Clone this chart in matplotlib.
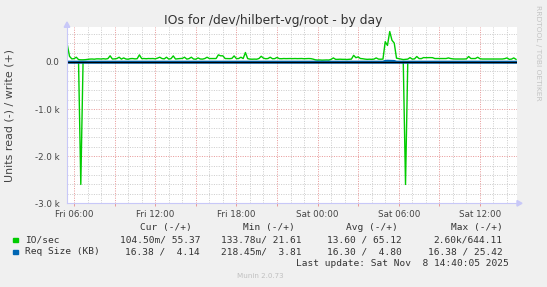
import numpy as np
import matplotlib
matplotlib.use("Agg")
import matplotlib.pyplot as plt
from matplotlib.patches import Rectangle

# ---------------- data ----------------
# 10-minute samples starting Fri 05:30 (hours since Fri 00:00)
start_hour = 5.5
step_hours = 1.0 / 6.0

io_write = [
    370, 120, 65, 70, 100, 50, 45, 45, 48, 55, 60, 62, 58, 65, 65, 62, 68, 62, 70, 130,
    62, 65, 72, 100, 60, 85, 62, 58, 70, 72, 65, 68, 150, 70, 72, 68, 72, 70, 72, 65,
    80, 100, 72, 65, 100, 60, 70, 128, 62, 68, 72, 75, 100, 60, 70, 100, 62, 58, 85, 62,
    60, 72, 100, 72, 72, 70, 72, 150, 130, 130, 72, 72, 70, 75, 128, 70, 72, 100, 72, 200,
    70, 60, 58, 60, 58, 72, 120, 80, 68, 72, 100, 68, 70, 95, 70, 68, 72, 70, 72, 72,
    70, 72, 70, 72, 72, 68, 70, 72, 70, 60, 45, 40, 42, 38, 40, 42, 40, 55, 85, 55,
    55, 58, 55, 55, 52, 55, 60, 140, 90, 107, 72, 68, 60, 55, 58, 55, 60, 85, 60, 58,
    60, 430, 350, 645, 460, 400, 80, 70, 60, 50, 55, 60, 92, 60, 65, 115, 72, 70, 92, 90,
    92, 92, 90, 72, 72, 70, 72, 72, 72, 85, 72, 65, 62, 62, 60, 62, 62, 65, 115, 72,
    72, 72, 100, 68, 62, 62, 62, 60, 62, 62, 62, 60, 62, 62, 70, 85, 55, 60, 85, 55,
]

io_read = [
    0.6, 0.4, 0.5, 0.3, 0.4, 0.5, 2600, 0.4, 0.3, 0.5, 0.4, 0.6, 0.3, 0.4, 0.5, 0.4, 0.3, 0.5, 0.4, 0.6,
    0.4, 0.3, 0.5, 0.4, 0.4, 0.5, 0.3, 0.4, 0.6, 0.4, 0.5, 0.3, 0.4, 0.5, 0.4, 0.3, 0.5, 0.4, 0.6, 0.4,
    0.3, 0.5, 0.4, 0.4, 0.5, 0.3, 0.4, 0.6, 0.4, 0.5, 0.3, 0.4, 0.5, 0.4, 0.3, 0.5, 0.4, 0.6, 0.4, 0.3,
    0.5, 0.4, 0.4, 0.5, 0.3, 0.4, 0.6, 0.4, 0.5, 0.3, 0.4, 0.5, 0.4, 0.3, 0.5, 0.4, 0.6, 0.4, 0.3, 0.5,
    0.4, 0.4, 0.5, 0.3, 0.4, 0.6, 0.4, 0.5, 0.3, 0.4, 0.5, 0.4, 0.3, 0.5, 0.4, 0.6, 0.4, 0.3, 0.5, 0.4,
    0.4, 0.5, 0.3, 0.4, 0.6, 0.4, 0.5, 0.3, 0.4, 0.5, 0.4, 0.3, 0.5, 0.4, 0.6, 0.4, 0.3, 0.5, 0.4, 0.4,
    0.5, 0.3, 0.4, 0.6, 0.4, 0.5, 0.3, 0.4, 0.5, 0.4, 0.3, 0.5, 0.4, 0.6, 0.4, 0.3, 0.5, 0.4, 0.4, 0.5,
    0.3, 0.4, 0.6, 0.4, 0.5, 0.3, 0.4, 0.5, 0.4, 0.3, 2600, 0.4, 0.6, 0.4, 0.3, 0.5, 0.4, 0.4, 0.5, 0.3,
    0.4, 0.6, 0.4, 0.5, 0.3, 0.4, 0.5, 0.4, 0.3, 0.5, 0.4, 0.6, 0.4, 0.3, 0.5, 0.4, 0.4, 0.5, 0.3, 0.4,
    0.6, 0.4, 0.5, 0.3, 0.4, 0.5, 0.4, 0.3, 0.5, 0.4, 0.6, 0.4, 0.3, 0.5, 0.4, 0.4, 0.5, 0.3, 0.4, 0.1,
]

req_read_kb = [
    16.3, 16.4, 16.3, 16.3, 16.2, 16.3, 16.4, 16.3, 16.3, 16.3, 16.2, 16.3, 16.4, 16.3, 16.3, 16.3, 16.2, 16.3, 16.4, 16.3,
    16.3, 16.3, 16.2, 16.3, 16.4, 16.3, 16.3, 16.3, 16.2, 16.3, 16.4, 16.3, 16.3, 16.3, 16.2, 16.3, 16.4, 16.3, 16.3, 16.3,
    16.2, 16.3, 16.4, 16.3, 16.3, 16.3, 16.2, 16.3, 16.4, 16.3, 16.3, 16.3, 16.2, 16.3, 16.4, 16.3, 16.3, 16.3, 16.2, 16.3,
    16.4, 16.3, 16.3, 16.3, 16.2, 16.3, 16.4, 16.3, 16.3, 16.3, 16.2, 16.3, 16.4, 16.3, 16.3, 16.3, 16.2, 16.3, 16.4, 16.3,
    16.3, 16.3, 16.2, 16.3, 16.4, 16.3, 16.3, 16.3, 16.2, 16.3, 16.4, 16.3, 16.3, 16.3, 16.2, 16.3, 16.4, 16.3, 16.3, 16.3,
    16.2, 16.3, 16.4, 16.3, 16.3, 16.3, 16.2, 16.3, 16.4, 16.3, 16.3, 16.3, 16.2, 16.3, 16.4, 16.3, 16.3, 16.3, 16.2, 16.3,
    16.4, 16.3, 16.3, 16.3, 16.2, 16.3, 16.4, 16.3, 16.3, 16.3, 16.2, 16.3, 16.4, 16.3, 16.3, 16.3, 16.2, 16.3, 16.4, 16.3,
    16.3, 16.3, 16.2, 16.3, 16.4, 16.3, 16.3, 16.3, 16.2, 16.3, 16.4, 16.3, 16.3, 16.3, 16.2, 16.3, 16.4, 16.3, 16.3, 16.3,
    16.2, 16.3, 16.4, 16.3, 16.3, 16.3, 16.2, 16.3, 16.4, 16.3, 16.3, 16.3, 16.2, 16.3, 16.4, 16.3, 16.3, 16.3, 16.2, 16.3,
    16.4, 16.3, 16.3, 16.3, 16.2, 16.3, 16.4, 16.3, 16.3, 16.3, 16.2, 16.3, 16.4, 16.3, 16.3, 16.3, 16.2, 16.3, 16.4, 16.4,
]

req_write_kb = [
    5.2, 4.8, 4.6, 4.9, 4.7, 4.8, 4.5, 4.9, 4.8, 4.6, 4.7, 4.9, 4.8, 4.6, 4.7, 4.8, 4.5, 4.9, 4.8, 4.6,
    4.7, 4.9, 4.8, 4.6, 4.7, 4.8, 4.5, 4.9, 4.8, 4.6, 4.7, 4.9, 4.8, 4.6, 4.7, 4.8, 4.5, 4.9, 4.8, 4.6,
    4.7, 4.9, 4.8, 4.6, 4.7, 4.8, 4.5, 4.9, 4.8, 4.6, 4.7, 4.9, 4.8, 4.6, 4.7, 4.8, 4.5, 4.9, 4.8, 4.6,
    4.7, 4.9, 4.8, 4.6, 4.7, 4.8, 4.5, 4.9, 4.8, 4.6, 4.7, 4.9, 4.8, 4.6, 4.7, 4.8, 4.5, 4.9, 4.8, 4.6,
    4.7, 4.9, 4.8, 4.6, 4.7, 4.8, 4.5, 4.9, 4.8, 4.6, 4.7, 4.9, 4.8, 4.6, 4.7, 4.8, 4.5, 4.9, 4.8, 4.6,
    4.7, 4.9, 4.8, 4.6, 4.7, 4.8, 4.5, 4.9, 4.8, 4.6, 4.7, 4.9, 4.8, 4.6, 4.7, 4.8, 4.5, 4.9, 4.8, 4.6,
    4.7, 4.9, 4.8, 4.6, 4.7, 4.8, 4.5, 4.9, 4.8, 4.6, 4.7, 4.9, 4.8, 4.6, 4.7, 4.8, 4.5, 4.9, 4.8, 4.6,
    4.7, 22.0, 25.4, 24.0, 23.5, 20.0, 4.8, 4.6, 4.7, 4.8, 4.5, 4.9, 4.8, 4.6, 4.7, 4.9, 4.8, 4.6, 4.7, 4.8,
    4.5, 4.9, 4.8, 4.6, 4.7, 4.9, 4.8, 4.6, 4.7, 4.8, 4.5, 4.9, 4.8, 4.6, 4.7, 4.9, 4.8, 4.6, 4.7, 4.8,
    4.5, 4.9, 4.8, 4.6, 4.7, 4.9, 4.8, 4.6, 4.7, 4.8, 4.5, 4.9, 4.8, 4.6, 4.7, 4.9, 4.8, 4.6, 4.7, 4.1,
]

x_tick_hours = [6, 12, 18, 24, 30, 36]
x_tick_labels = ["Fri 06:00", "Fri 12:00", "Fri 18:00", "Sat 00:00", "Sat 06:00", "Sat 12:00"]
y_tick_values = [0, -1000, -2000, -3000]
y_tick_labels = ["0.0", "-1.0 k", "-2.0 k", "-3.0 k"]

title = "IOs for /dev/hilbert-vg/root - by day"
y_label = "Units read (-) / write (+)"
legend_headers = ["Cur (-/+)", "Min (-/+)", "Avg (-/+)", "Max (-/+)"]
legend_series = ["IO/sec", "Req Size (KB)"]
legend_colors = ["#00CC00", "#0066B3"]
legend_values = [
    ["104.50m/ 55.37", "133.78u/ 21.61", "13.60 / 65.12", "2.60k/644.11"],
    ["16.38 /  4.14", "218.45m/  3.81", "16.30 /  4.80", "16.38 / 25.42"],
]
last_update = "Last update: Sat Nov  8 14:40:05 2025"
munin_version = "Munin 2.0.73"
side_text = "RRDTOOL / TOBI OETIKER"

# ---------------- figure ----------------
W, H = 547, 287
fig = plt.figure(figsize=(W / 100, H / 100), dpi=100, facecolor="#F0F0F0")

def fx(px):
    return px / W

def fy(py):
    return 1 - py / H

ax_l, ax_r, ax_t, ax_b = 67, 517, 27.3, 203.3
ax = fig.add_axes([fx(ax_l), fy(ax_b), (ax_r - ax_l) / W, (ax_b - ax_t) / H])
ax.set_facecolor("white")

t = start_hour + step_hours * np.arange(len(io_write))
x_min, x_max = 5.48, 38.74
y_min, y_max = -3000, 735
ax.set_xlim(x_min, x_max)
ax.set_ylim(y_min, y_max)

# grid
minor_col = "#cdcdcd"
major_col = "#e89a9a"
for h in np.arange(6, 39, 1):
    if h % 3 != 0:
        ax.axvline(h, color=minor_col, lw=0.72, ls=(0, (1, 1.4)), zorder=0.5)
for h in np.arange(6, 39, 3):
    ax.axvline(h, color=major_col, lw=0.72, ls=(0, (1, 1.4)), zorder=0.6)
for v in np.arange(-2800, 736, 200):
    if v % 1000 != 0:
        ax.axhline(v, color=minor_col, lw=0.72, ls=(0, (1, 1.4)), zorder=0.5)
for v in [-1000, -2000]:
    ax.axhline(v, color=major_col, lw=0.72, ls=(0, (1, 1.4)), zorder=0.6)

# data
io_w = np.array(io_write, dtype=float)
io_r = np.array(io_read, dtype=float)
rq_r = np.array(req_read_kb, dtype=float)
rq_w = np.array(req_write_kb, dtype=float)
ax.plot(t, -io_r, color="#00CC00", lw=1.0, zorder=2)
ax.plot(t, io_w, color="#00CC00", lw=1.0, zorder=2)
ax.plot(t, -rq_r, color="#0066B3", lw=1.5, zorder=3)
ax.plot(t, rq_w, color="#0066B3", lw=1.5, zorder=3)
ax.axhline(0, color="#000000", lw=0.9, zorder=4)

# axes styling
for s in ["top", "right"]:
    ax.spines[s].set_visible(False)
axis_col = "#c8c8f8"
for s in ["left", "bottom"]:
    ax.spines[s].set_color(axis_col)
    ax.spines[s].set_linewidth(0.8)
    ax.spines[s].set_zorder(5)

ax.set_xticks(x_tick_hours)
ax.set_xticklabels(x_tick_labels)
ax.set_xticks([9, 15, 21, 27, 33], minor=True)
ax.set_yticks(y_tick_values)
ax.set_yticklabels(y_tick_labels)
ax.tick_params(axis="x", which="both", length=2, color=major_col, width=0.7,
               pad=2.6, labelsize=6.3, labelcolor="#444444")
ax.tick_params(axis="y", length=0, pad=5.5, labelsize=6.3, labelcolor="#444444")

# arrows on the axes
fig.lines.append(plt.Line2D([fx(ax_r), fx(ax_r + 1)], [fy(ax_b), fy(ax_b)], transform=fig.transFigure,
                            color=axis_col, lw=0.8))
fig.patches.append(plt.Polygon([[fx(ax_r), fy(ax_b - 2.8)], [fx(ax_r + 5), fy(ax_b)], [fx(ax_r), fy(ax_b + 2.8)]],
                               closed=True, transform=fig.transFigure, color=axis_col, zorder=6))
fig.patches.append(plt.Polygon([[fx(ax_l - 2.8), fy(ax_t)], [fx(ax_l), fy(ax_t - 5.3)], [fx(ax_l + 2.8), fy(ax_t)]],
                               closed=True, transform=fig.transFigure, color=axis_col, zorder=6))

# texts
fig.text(fx(273), fy(24), title, ha="center", va="baseline", fontsize=8.9, color="#333333")
fig.text(fx(10), fy(115), y_label, ha="center", va="center", rotation=90, fontsize=7.9,
         color="#444444")
fig.text(fx(538), fy(5), side_text, ha="center", va="top", rotation=270, fontsize=5.4,
         color="#c4c4c4")

mono = "DejaVu Sans Mono"
leg_fs = 6.8
leg_col = "#333333"
header_right = [191.7, 295, 398, 502.7]
value_right = [200, 301.7, 401.7, 502.7]
row_y = [240, 252]
for hx, htxt in zip(header_right, legend_headers):
    fig.text(fx(hx), fy(227.3), htxt, ha="right", va="center", family=mono, fontsize=leg_fs, color=leg_col)
for r, (name, col, vals) in enumerate(zip(legend_series, legend_colors, legend_values)):
    yy = row_y[r]
    fig.patches.append(Rectangle((fx(13.3), fy(yy + 2.4)), 5 / W, 4.8 / H, transform=fig.transFigure,
                                 color=col))
    fig.text(fx(25), fy(yy), name, ha="left", va="center", family=mono, fontsize=leg_fs, color=leg_col)
    for vx, vtxt in zip(value_right, vals):
        fig.text(fx(vx), fy(yy), vtxt, ha="right", va="center", family=mono, fontsize=leg_fs, color=leg_col)
fig.text(fx(508.3), fy(263.5), last_update, ha="right", va="center", family=mono, fontsize=leg_fs,
         color=leg_col)
fig.text(fx(260.7), fy(276), munin_version, ha="center", va="center", fontsize=5.1, color="#c0c0c0")

fig.savefig("out.png", dpi=100, facecolor=fig.get_facecolor())
